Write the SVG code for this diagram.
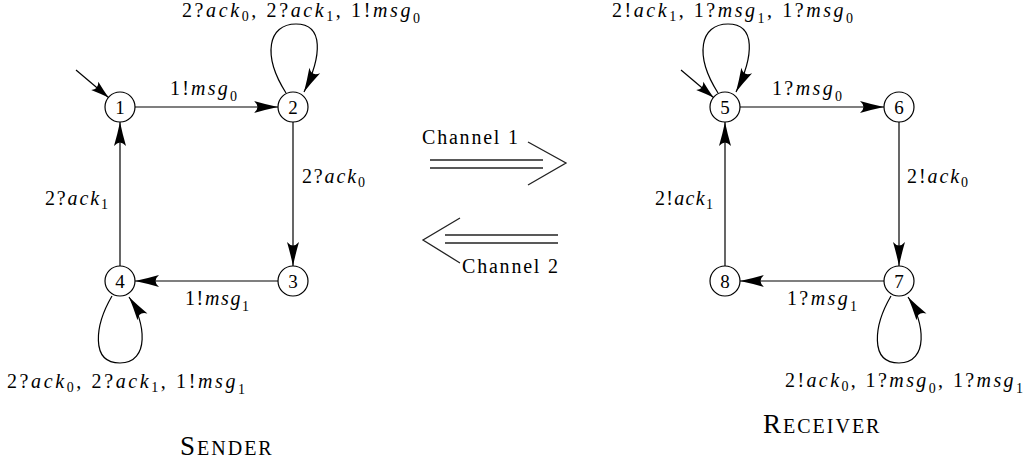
<svg xmlns="http://www.w3.org/2000/svg" width="1030" height="466" viewBox="0 0 1030 466">
<style>
text{font-family:"Liberation Serif","DejaVu Serif",serif;font-size:20px;fill:#000}
.i{font-style:italic}
.s{font-size:14px}
.sc{font-size:20px}
.big{font-size:27px}
.t{letter-spacing:2px}
circle{fill:#fff;stroke:#000;stroke-width:1.2}
.e{fill:none;stroke:#000;stroke-width:1.2}
.ch{fill:none;stroke:#222;stroke-width:1.3}
.n{text-anchor:middle;font-size:19px}
</style>
<defs>
<marker id="ah" markerUnits="userSpaceOnUse" markerWidth="30" markerHeight="14" refX="26" refY="7" orient="auto" viewBox="0 0 30 14" overflow="visible">
<path d="M26,7 Q14,4.5 2,1 Q9,7 2,13 Q14,9.5 26,7 Z" fill="#000"/>
</marker>
<marker id="ahs" markerUnits="userSpaceOnUse" markerWidth="24" markerHeight="14" refX="20" refY="7" orient="auto" viewBox="0 0 24 14" overflow="visible">
<path d="M20,7 Q11,4.5 2,1.5 Q7,7 2,12.5 Q11,9.5 20,7 Z" fill="#000"/>
</marker>
</defs>

<g id="connectors">
<line class="e" x1="76" y1="70" x2="108.5" y2="97.5" marker-end="url(#ahs)"/>
<line class="e" x1="135" y1="107" x2="278" y2="107" marker-end="url(#ah)"/>
<line class="e" x1="293" y1="122" x2="293" y2="266" marker-end="url(#ah)"/>
<line class="e" x1="278" y1="281" x2="135" y2="281" marker-end="url(#ah)"/>
<line class="e" x1="120" y1="266" x2="120" y2="122" marker-end="url(#ah)"/>
<path class="e" d="M286,93 C262,55 268,24 296,24 C324,24 322,56 304,92" marker-end="url(#ah)"/>
<path class="e" d="M112,296 C95,325 90,363 120,363 C150,363 146,322 129,297" marker-end="url(#ah)"/>

<line class="e" x1="681" y1="70" x2="713.5" y2="97.5" marker-end="url(#ahs)"/>
<line class="e" x1="740" y1="107" x2="884" y2="107" marker-end="url(#ah)"/>
<line class="e" x1="899" y1="122" x2="899" y2="266" marker-end="url(#ah)"/>
<line class="e" x1="884" y1="281" x2="740" y2="281" marker-end="url(#ah)"/>
<line class="e" x1="725" y1="266" x2="725" y2="122" marker-end="url(#ah)"/>
<path class="e" d="M718,93 C694,55 700,24 728,24 C756,24 754,56 736,92" marker-end="url(#ah)"/>
<path class="e" d="M891,296 C874,325 869,363 899,363 C929,363 925,322 908,297" marker-end="url(#ah)"/>

<text x="182" y="17" textLength="238">2?<tspan class="i">ack</tspan><tspan class="s" dy="4">0</tspan><tspan dy="-4">, 2?</tspan><tspan class="i">ack</tspan><tspan class="s" dy="4">1</tspan><tspan dy="-4">, 1!</tspan><tspan class="i">msg</tspan><tspan class="s" dy="6">0</tspan></text>
<text x="170" y="95" textLength="67">1!<tspan class="i">msg</tspan><tspan class="s" dy="6">0</tspan></text>
<text x="302" y="183" textLength="63">2?<tspan class="i">ack</tspan><tspan class="s" dy="4">0</tspan></text>
<text x="45" y="205" textLength="63">2?<tspan class="i">ack</tspan><tspan class="s" dy="4">1</tspan></text>
<text x="185" y="305" textLength="64">1!<tspan class="i">msg</tspan><tspan class="s" dy="6">1</tspan></text>
<text x="7" y="388" textLength="238">2?<tspan class="i">ack</tspan><tspan class="s" dy="4">0</tspan><tspan dy="-4">, 2?</tspan><tspan class="i">ack</tspan><tspan class="s" dy="4">1</tspan><tspan dy="-4">, 1!</tspan><tspan class="i">msg</tspan><tspan class="s" dy="6">1</tspan></text>

<text x="612" y="17" textLength="241">2!<tspan class="i">ack</tspan><tspan class="s" dy="4">1</tspan><tspan dy="-4">, 1?</tspan><tspan class="i">msg</tspan><tspan class="s" dy="6">1</tspan><tspan dy="-6">, 1?</tspan><tspan class="i">msg</tspan><tspan class="s" dy="6">0</tspan></text>
<text x="772" y="95" textLength="70">1?<tspan class="i">msg</tspan><tspan class="s" dy="6">0</tspan></text>
<text x="907" y="183" textLength="61">2!<tspan class="i">ack</tspan><tspan class="s" dy="4">0</tspan></text>
<text x="655" y="205" textLength="58">2!<tspan class="i">ack</tspan><tspan class="s" dy="4">1</tspan></text>
<text x="787" y="305" textLength="70">1?<tspan class="i">msg</tspan><tspan class="s" dy="6">1</tspan></text>
<text x="785" y="387" textLength="238">2!<tspan class="i">ack</tspan><tspan class="s" dy="4">0</tspan><tspan dy="-4">, 1?</tspan><tspan class="i">msg</tspan><tspan class="s" dy="6">0</tspan><tspan dy="-6">, 1?</tspan><tspan class="i">msg</tspan><tspan class="s" dy="6">1</tspan></text>
</g>

<g id="channel1">
<line class="ch" x1="430" y1="160" x2="543" y2="160"/>
<line class="ch" x1="430" y1="168" x2="543" y2="168"/>
<polyline class="ch" points="528,142 566,163 528,185"/>
<text x="422" y="144" textLength="96">Channel 1</text>
</g>
<g id="channel2">
<line class="ch" x1="445" y1="235" x2="558" y2="235"/>
<line class="ch" x1="445" y1="243" x2="558" y2="243"/>
<polyline class="ch" points="460,218 423,240 460,263"/>
<text x="462" y="273" textLength="96">Channel 2</text>
</g>

<g id="node1"><circle cx="120" cy="107" r="15"/><text class="n" x="120" y="114">1</text></g>
<g id="node2"><circle cx="293" cy="107" r="15"/><text class="n" x="293" y="114">2</text></g>
<g id="node3"><circle cx="293" cy="281" r="15"/><text class="n" x="293" y="288">3</text></g>
<g id="node4"><circle cx="120" cy="281" r="15"/><text class="n" x="120" y="288">4</text></g>
<g id="node5"><circle cx="725" cy="107" r="15"/><text class="n" x="725" y="114">5</text></g>
<g id="node6"><circle cx="899" cy="107" r="15"/><text class="n" x="899" y="114">6</text></g>
<g id="node7"><circle cx="899" cy="281" r="15"/><text class="n" x="899" y="288">7</text></g>
<g id="node8"><circle cx="725" cy="281" r="15"/><text class="n" x="725" y="288">8</text></g>

<g id="titles">
<text class="t" x="180" y="455"><tspan class="big">S</tspan><tspan class="sc">ENDER</tspan></text>
<text class="t" x="763" y="433"><tspan class="big">R</tspan><tspan class="sc">ECEIVER</tspan></text>
</g>
</svg>
